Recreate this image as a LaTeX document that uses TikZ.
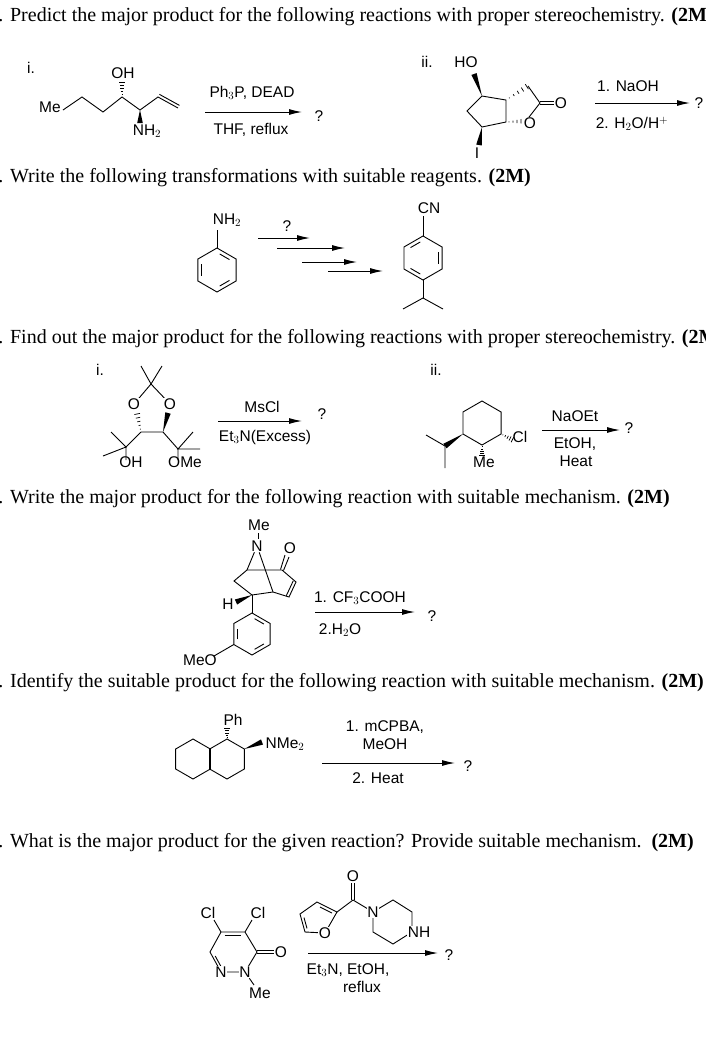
\documentclass[tikz,border=0pt]{standalone}
\usepackage{fontspec}
\setmainfont{Liberation Serif}
\setsansfont{Liberation Sans}
\usetikzlibrary{calc}
\usetikzlibrary{arrows.meta}

% bond helpers
\newcommand{\wedgebond}[2]{\fill (#1) -- ($(#2)!2.8pt!90:(#1)$) -- ($(#2)!2.8pt!-90:(#1)$) -- cycle;}
\newcommand{\hashbond}[2]{\foreach \t in {0.15,0.35,0.55,0.75,0.95}{
    \path (#1) -- (#2) coordinate[pos=\t] (hm);
    \draw[line width=0.7pt] ($(hm)!{\t*3pt}!90:(#2)$) -- ($(hm)!{\t*3pt}!-90:(#2)$);}}
% hexagon with pointy top: name, centre, radius (vertices 1..6 clockwise from top)
\newcommand{\hexring}[3]{\foreach \a [count=\k] in {-90,-30,30,90,150,210}{\coordinate (#1\k) at ($(#2)+(\a:#3)$);}
  \draw (#11) -- (#12) -- (#13) -- (#14) -- (#15) -- (#16) -- cycle;}
% inner double line of a ring edge: end, end, ring centre
\newcommand{\innerline}[3]{\path ($(#1)!0.18!(#2)$) coordinate (il1) ($(#2)!0.18!(#1)$) coordinate (il2);
  \draw ($(il1)!0.2!(#3)$) -- ($(il2)!0.2!(#3)$);}

\tikzset{
  hdr/.style={anchor=west, font=\fontsize{20}{22}\selectfont, inner sep=0pt},
  lbl/.style={font=\sffamily\fontsize{15.5}{17}\selectfont, inner sep=0.5pt},
  rxn/.style={-{Latex[length=13pt,width=6pt]}, line width=1pt},
  every path/.style={line width=0.9pt}
}

\begin{document}
\begin{tikzpicture}[x=1pt, y=-1pt]
		\useasboundingbox (0,0) rectangle (706,1039);

		% headings
		\node[hdr] (h1) at (-2,17) {. Predict the major product for the following reactions with proper stereochemistry. \textbf{(2M)}};
		\node[hdr] (h2) at (-2,178) {. Write the following transformations with suitable reagents. \textbf{(2M)}};
		\node[hdr] (h3) at (-2,339) {. Find out the major product for the following reactions with proper stereochemistry. \textbf{(2M)}};
		\node[hdr] (h4) at (-2,499) {. Write the major product for the following reaction with suitable mechanism. \textbf{(2M)}};
		\node[hdr] (h5) at (-2,683) {. Identify the suitable product for the following reaction with suitable mechanism. \textbf{(2M)}};
		\node[hdr] (h6) at (-2,843) {. What is the major product for the given reaction? Provide suitable mechanism.\ \ \textbf{(2M)}};

		% part 1 i
		\node[lbl] (n1i) at (31,68) {i.};
		\node[lbl] (me1) at (50,107) {Me};
		\path (63,110) coordinate (a1) (82,97) coordinate (a2) (103,112) coordinate (a3)
		      (122,97) coordinate (a4) (140,110) coordinate (a5) (158,97) coordinate (a6) (178,108) coordinate (a7);
		\draw (a1) -- (a2) -- (a3) -- (a4) -- (a5) -- (a6) -- (a7);
		\draw ($(a6)!3pt!90:(a7)$) -- ($(a7)!3pt!-90:(a6)$);
		\coordinate (a4h) at (122,82);
		\hashbond{a4}{a4h}
		\node[lbl] (oh1) at (123,73) {OH};
		\wedgebond{a5}{140,123}
		\node[lbl] (nh1) at (147,131) {NH$_2$};
		\draw[rxn] (205,112) coordinate (r1s) -- (302,112);
		\node[lbl] (r1a) at (252,93) {Ph$_3$P, DEAD};
		\node[lbl] (r1b) at (251,130) {THF, reflux};
		\node[lbl] (q1) at (319,116) {?};

		% part 1 ii
		\node[lbl] (n1ii) at (427,62) {ii.};
		\node[lbl] (ho2) at (466,62) {HO};
		\path (482,96) coordinate (b1) (506,100) coordinate (b2) (506,122) coordinate (b3)
		      (482,127) coordinate (b4) (467,111) coordinate (b5)
		      (528,86) coordinate (b6) (540,103) coordinate (b7) (526,121) coordinate (b8);
		\draw (b1) -- (b2) -- (b3) -- (b4) -- (b5) -- cycle;
		\wedgebond{b1}{474,74}
		\wedgebond{b4}{479,145}
		\node[lbl] (i2) at (477,153) {I};
		\hashbond{b2}{b6}
		\draw (b6) -- (b7) -- (b8);
		\hashbond{b3}{b8}
		\node[lbl, fill=white] (o2r) at (530,123) {O};
		\draw ($(b7)+(0,-1.6)$) -- (554,101.4) ($(b7)+(0,1.6)$) -- (554,104.6);
		\node[lbl] (o2c) at (561,103) {O};
		\draw[rxn] (595,103) coordinate (r2s) -- (690,103);
		\node[lbl] (r2a) at (628,86) {1. NaOH};
		\node[lbl] (r2b) at (632,124) {2. H$_2$O/H$^+$};
		\node[lbl] (q2) at (699,103) {?};

		% part 2
		\hexring{c}{217,270}{22}
		\innerline{c1}{c2}{217,270}
		\innerline{c3}{c4}{217,270}
		\innerline{c5}{c6}{217,270}
		\draw (c1) -- (217,230);
		\node[lbl] (nh2) at (227,220) {NH$_2$};
		\hexring{p}{423,258}{22}
		\innerline{p2}{p3}{423,258}
		\innerline{p4}{p5}{423,258}
		\innerline{p6}{p1}{423,258}
		\draw (p1) -- (423,216);
		\node[lbl] (cn) at (429,208) {CN};
		\draw (p4) -- (423,298) coordinate (ip);
		\draw (403,309) -- (ip) -- (443,309);
		\foreach \xs/\xe/\yy [count=\k] in {258/310/238, 277/345/248, 302/357/262, 328/383/271}
			\draw[rxn] (\xs,\yy) coordinate (t\k) -- (\xe,\yy);
		\node[lbl] (q3) at (287,226) {?};

		% part 3 i
		\node[lbl] (n3i) at (100,370) {i.};
		\path (151,384) coordinate (d0) (134,404) coordinate (dol) (170,404) coordinate (dor)
		      (141,432) coordinate (dl) (163,432) coordinate (dr)
		      (126,447) coordinate (ql) (178,449) coordinate (qr)
		      (137,413) coordinate (dlo) (168,413) coordinate (dro);
		\draw (141,366) -- (d0) -- (162,366);
		\draw (d0) -- (dol) (d0) -- (dor) (dl) -- (dr);
		\node[lbl, fill=white] (o3l) at (dol) {O};
		\node[lbl, fill=white] (o3r) at (dor) {O};
		\hashbond{dl}{dlo}
		\wedgebond{dr}{dro}
		\draw (dl) -- (ql) (dr) -- (qr);
		\draw (111,432) -- (ql) -- (103,456) (ql) -- (126,460);
		\draw (193,432) -- (qr) -- (200,449) (qr) -- (178,460);
		\node[lbl] (oh3) at (131,462) {OH};
		\node[lbl] (ome3) at (185,462) {OMe};
		\draw[rxn] (218,421) coordinate (r3s) -- (302,421);
		\node[lbl] (r3a) at (262,407) {MsCl};
		\node[lbl] (r3b) at (265,437) {Et$_3$N(Excess)};
		\node[lbl] (q4) at (322,414) {?};

		% part 3 ii
		\node[lbl] (n3ii) at (436,370) {ii.};
		\hexring{e}{482,423}{22}
		\coordinate (ipr) at (445,446);
		\wedgebond{e5}{ipr}
		\draw (ipr) -- (426,435) (ipr) -- (445,468);
		\coordinate (emh) at (482,456);
		\hashbond{e4}{emh}
		\node[lbl] (me3) at (484,462) {Me};
		\coordinate (eclh) at (513,440);
		\hashbond{e3}{eclh}
		\node[lbl] (cl3) at (520,437) {Cl};
		\draw[rxn] (542,430) coordinate (r4s) -- (620,430);
		\node[lbl] (r4a) at (575,416) {NaOEt};
		\node[lbl] (r4b) at (575,444) {EtOH,};
		\node[lbl] (r4c) at (576,461) {Heat};
		\node[lbl] (q5) at (629,428) {?};

		% part 4
		\node[lbl] (me4) at (259,525) {Me};
		\draw (258,533) -- (258,539);
		\node[lbl] (n4) at (257,546) {N};
		\path (247,570) coordinate (f1) (282,570) coordinate (f2) (296,582) coordinate (f3)
		      (289,597) coordinate (f4) (273,592) coordinate (f5) (234,581) coordinate (f6) (252,595) coordinate (f7);
		\draw (f1) -- (f2) -- (f3) -- (f4) -- (f5) -- (f7) -- (f6) -- (f1);
		\draw (f1) -- (n4) -- (f5);
		\draw ($(f3)!3pt!-90:(f4)$) -- ($(f4)!3pt!90:(f3)$);
		\draw ($(f2)+(-1.5,-0.5)$) -- (285,555) ($(f2)+(1.5,0.5)$) -- (289,557);
		\node[lbl] (o4) at (290,548) {O};
		\coordinate (fh) at (236,602);
		\wedgebond{f7}{fh}
		\node[lbl] (h4l) at (228,604) {H};
		\hexring{g}{252,634}{21}
		\draw (f7) -- (g1);
		\innerline{g1}{g2}{252,634}
		\innerline{g3}{g4}{252,634}
		\innerline{g5}{g6}{252,634}
		\draw (g5) -- (214,656);
		\node[lbl] (meo4) at (200,660) {MeO};
		\draw[rxn] (315,612) coordinate (r5s) -- (415,612);
		\node[lbl] (r5a) at (360,598) {1. CF$_3$COOH};
		\node[lbl] (r5b) at (340,630) {2.H$_2$O};
		\node[lbl] (q6) at (432,616) {?};

		% part 5
		\hexring{k}{193,759}{20}
		\hexring{m}{227,759}{20}
		\coordinate (mph) at (227,728);
		\hashbond{m1}{mph}
		\node[lbl] (ph5) at (233,720) {Ph};
		\coordinate (mnh) at (262,742);
		\wedgebond{m2}{mnh}
		\node[lbl] (nme5) at (285,744) {NMe$_2$};
		\draw[rxn] (322,763) coordinate (r6s) -- (455,763);
		\node[lbl] (r6a) at (385,727) {1. mCPBA,};
		\node[lbl] (r6b) at (385,744) {MeOH};
		\node[lbl] (r6c) at (378,778) {2. Heat};
		\node[lbl] (q7) at (468,766) {?};

		% part 6
		\path (221,932) coordinate (s1) (245,932) coordinate (s2) (257,952) coordinate (s3)
		      (245,972) coordinate (s4) (221,972) coordinate (s5) (210,952) coordinate (s6);
		\draw (s1) -- (s2) -- (s3) -- (s4) -- (s5) -- (s6) -- cycle;
		\draw ($(s1)!0.15!(s2)+(0,3.5)$) -- ($(s2)!0.15!(s1)+(0,3.5)$);
		\draw ($(s6)!0.2!(s5)+(3,0)$) -- ($(s5)!0.2!(s6)+(3,0)$);
		\draw ($(s3)+(0,-1.6)$) -- (274,950.4) ($(s3)+(0,1.6)$) -- (274,953.6);
		\node[lbl] (o6) at (281,952) {O};
		\node[lbl, fill=white] (n6a) at (s4) {N};
		\node[lbl, fill=white] (n6b) at (s5) {N};
		\draw (s1) -- (214,920) (s2) -- (252,920);
		\node[lbl] (cl6a) at (208,913) {Cl};
		\node[lbl] (cl6b) at (258,913) {Cl};
		\draw (n6a) -- (254,985);
		\node[lbl] (me6) at (260,993) {Me};
		% furoyl piperazine
		\path (337,912) coordinate (u1) (325,933) coordinate (u2) (305,932) coordinate (u3)
		      (300,914) coordinate (u4) (317,902) coordinate (u5);
		\draw (u1) -- (u2) -- (u3) -- (u4) -- (u5) -- cycle;
		\node[lbl, fill=white] (ofu) at (u2) {O};
		\draw ($(u1)!0.2!(u5)+(-1,3)$) -- ($(u5)!0.2!(u1)+(-1,3)$);
		\draw ($(u3)!0.2!(u4)+(3,0)$) -- ($(u4)!0.2!(u3)+(3,0)$);
		\coordinate (v0) at (353,900);
		\draw (u1) -- (v0);
		\draw (351.4,900) -- (351.4,883) (354.6,900) -- (354.6,883);
		\node[lbl] (o6c) at (353,876) {O};
		\path (373,912) coordinate (w1) (393,900) coordinate (w2) (412,912) coordinate (w3)
		      (412,932) coordinate (w4) (393,944) coordinate (w5) (373,932) coordinate (w6);
		\draw (v0) -- (w1) -- (w2) -- (w3) -- (w4) -- (w5) -- (w6) -- (w1);
		\node[lbl, fill=white] (n6c) at (w1) {N};
		\node[lbl, fill=white, anchor=west, xshift=-5pt] (nh6) at (w4) {NH};
		\draw[rxn] (308,953) coordinate (r7s) -- (438,953);
		\node[lbl] (r7a) at (348,970) {Et$_3$N, EtOH,};
		\node[lbl] (r7b) at (362,987) {reflux};
		\node[lbl] (q8) at (449,955) {?};
	\end{tikzpicture}
\end{document}
